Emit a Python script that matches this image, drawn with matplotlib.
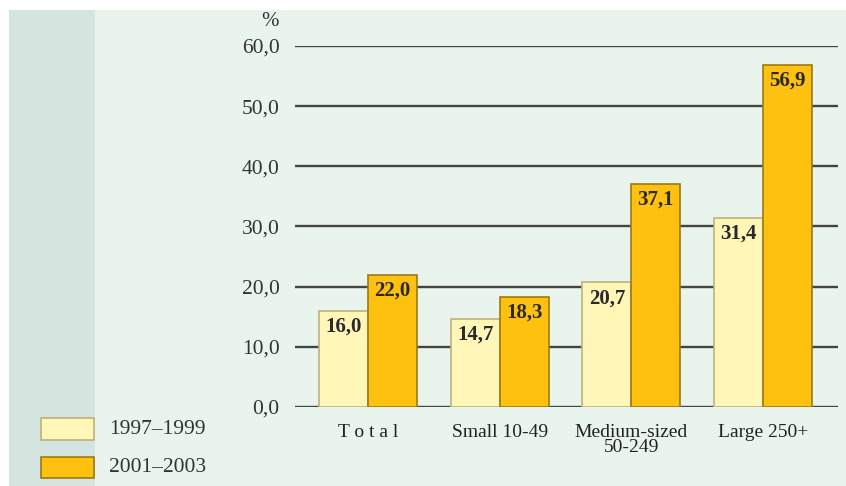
import matplotlib.pyplot as plt
import numpy as np
from matplotlib.patches import Rectangle

CATEGORIES = ["T o t a l", "Small 10-49", "Medium-sized\n50-249", "Large 250+"]
SERIES = ["1997–1999", "2001–2003"]
VALUES_9799 = [16.0, 14.7, 20.7, 31.4]
VALUES_0103 = [22.0, 18.3, 37.1, 56.9]
Y_TICKS = [0, 10, 20, 30, 40, 50, 60]

FILLS = ["#fff6b8", "#fec110"]
EDGES = ["#bdb27a", "#9c7a12"]
BG = "#e9f4ed"
STRIP = "#d4e5e0"
SERIF = ["Liberation Serif", "DejaVu Serif"]

W, H = 846, 486
plt.rcParams["font.family"] = SERIF

fig = plt.figure(figsize=(W / 100, H / 100), dpi=100)
fig.patch.set_facecolor("white")
fig.patches.append(Rectangle((9 / W, 0), 1 - 9 / W, 1 - 10 / H,
                             transform=fig.transFigure, facecolor=BG, edgecolor="none", zorder=-2))
fig.patches.append(Rectangle((9 / W, 0), 86 / W, 1 - 10 / H,
                             transform=fig.transFigure, facecolor=STRIP, edgecolor="none", zorder=-1))

ax = fig.add_axes([295 / W, 1 - 407 / H, (838 - 295) / W, (407 - 46) / H])
ax.set_facecolor("none")

x = np.arange(len(CATEGORIES))
width = 0.372
for k, vals in enumerate([VALUES_9799, VALUES_0103]):
    pos = x + (k - 0.5) * width
    ax.bar(pos, vals, width, color=FILLS[k], edgecolor=EDGES[k], linewidth=1.2, zorder=3)
    for px, v in zip(pos, vals):
        ax.text(px, v - 1.0, f"{v:.1f}".replace(".", ","), ha="center", va="top",
                fontsize=15, fontweight="bold", color="#2a2a2a", zorder=4)

for t in Y_TICKS:
    ax.axhline(t, color="#444444", lw=1.7, zorder=2)

ax.set_xlim((295 - 368) / 131.67, (838 - 368) / 131.67)
ax.set_ylim(0, 60)
ax.set_yticks(Y_TICKS)
ax.set_yticklabels([f"{t:.1f}".replace(".", ",") for t in Y_TICKS], fontsize=15.5, color="#333333")
ax.set_xticks(x)
ax.set_xticklabels(CATEGORIES, fontsize=14, color="#222222", linespacing=0.9, va="top")
ax.tick_params(axis="y", length=0, pad=11)
ax.tick_params(axis="x", length=0, pad=12)
for s in ax.spines.values():
    s.set_visible(False)
ax.text(279 / W, 1 - 21 / H, "%", transform=fig.transFigure, ha="right", va="center",
        fontsize=15, color="#333333")

# legend
for k, (y0, y1) in enumerate([(418, 440), (457, 478)]):
    fig.patches.append(Rectangle((41 / W, 1 - y1 / H), 53 / W, (y1 - y0) / H,
                                 transform=fig.transFigure, facecolor=FILLS[k],
                                 edgecolor=EDGES[k], linewidth=1.2))
    fig.text(109 / W, 1 - (y0 + y1) / 2 / H, SERIES[k], ha="left", va="center",
             fontsize=15.5, color="#333333")

fig.savefig("out.png", dpi=100)
